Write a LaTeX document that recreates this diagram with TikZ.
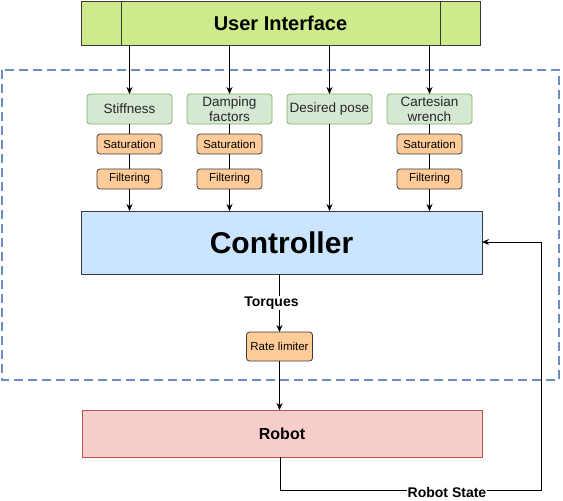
\documentclass[tikz,border=0pt]{standalone}
\usepackage{fontspec}
\setmainfont{Liberation Sans}
\usetikzlibrary{arrows.meta}
\definecolor{uifill}{HTML}{CDEB8B}
\definecolor{dk}{HTML}{36393D}
\definecolor{gfill}{HTML}{D5E8D4}
\definecolor{gline}{HTML}{82B366}
\definecolor{ofill}{HTML}{FFCC99}
\definecolor{bfill}{HTML}{CCE5FF}
\definecolor{rfill}{HTML}{F8CECC}
\definecolor{rline}{HTML}{B85450}
\definecolor{frameblue}{HTML}{6C8EBF}
\begin{document}
\begin{tikzpicture}[x=1pt,y=-1pt,
  box/.style={draw=dk,line width=0.8pt,inner sep=0pt,outer sep=0pt},
  param/.style={draw=gline,fill=gfill,rounded corners=3pt,line width=0.8pt,minimum width=85pt,minimum height=30pt,inner sep=0pt,outer sep=0pt,align=center,font=\fontsize{13.5}{15}\selectfont,text=black!85},
  proc/.style={draw=dk,fill=ofill,rounded corners=3pt,line width=0.8pt,minimum width=65pt,minimum height=20pt,inner sep=0pt,outer sep=0pt,font=\fontsize{11.5}{12}\selectfont},
  arr/.style={-{Stealth[length=7pt,width=6pt]},line width=0.8pt},
  ln/.style={line width=0.8pt}]
\useasboundingbox (0,0) rectangle (563,501);
% dashed frame
\draw[frameblue,line width=2pt,dash pattern=on 9pt off 5pt] (2,70) rectangle (559,380);
% UI
\node[box,fill=uifill,minimum width=399pt,minimum height=44pt] (ui) at (280.5,23) {};
\draw[dk,line width=0.8pt] (121.5,1) -- (121.5,45) (440,1) -- (440,45);
\node[font=\bfseries\fontsize{20}{20}\selectfont] (uit) at (280.5,23) {User Interface};
% params
\node[param] (p1) at (129.5,109) {Stiffness};
\node[param] (p2) at (229.5,109) {Damping\\factors};
\node[param] (p3) at (329.5,109) {Desired pose};
\node[param] (p4) at (429.5,109) {Cartesian\\wrench};
\node[proc] (s1) at (129.5,144) {Saturation};
\node[proc] (s2) at (229.5,144) {Saturation};
\node[proc] (s4) at (429.5,144) {Saturation};
\node[proc] (f1) at (129.5,179) {Filtering};
\node[proc] (f2) at (229.5,179) {Filtering};
\node[proc] (f4) at (429.5,179) {Filtering};
% controller
\node[box,fill=bfill,minimum width=401pt,minimum height=63pt,font=\bfseries\fontsize{30}{30}\selectfont] (ctrl) at (281.5,242.5) {Controller};
\node[proc,minimum width=66pt,minimum height=29pt] (rl) at (279.5,346.5) {Rate limiter};
\node[draw=rline,fill=rfill,line width=0.8pt,minimum width=400pt,minimum height=47pt,inner sep=0pt,outer sep=0pt,font=\bfseries\fontsize{16}{16}\selectfont] (robot) at (282,433.5) {Robot};
% arrows from UI
\foreach \x/\n in {129.5/p1,229.5/p2,329.5/p3,429.5/p4}{
  \draw[arr] (\x,45) -- (\n.north);
}
\draw[ln] (p1) -- (s1); \draw[ln] (s1) -- (f1); \draw[arr] (f1) -- (f1.south |- ctrl.north);
\draw[ln] (p2) -- (s2); \draw[ln] (s2) -- (f2); \draw[arr] (f2) -- (f2.south |- ctrl.north);
\draw[ln] (p4) -- (s4); \draw[ln] (s4) -- (f4); \draw[arr] (f4) -- (f4.south |- ctrl.north);
\draw[arr] (p3) -- (p3.south |- ctrl.north);
% torques
\coordinate (ct) at (279.5,274);
\draw[arr] (ct) -- node[fill=white,inner sep=1pt,font=\bfseries\fontsize{14}{14}\selectfont,xshift=-8pt,pos=0.5] {Torques} (rl.north);
\draw[arr] (rl) -- (rl.south |- robot.north);
% feedback
\coordinate (b1) at (280,490);
\coordinate (b2) at (541,490);
\coordinate (b3) at (541,242);
\draw[ln] (robot.south -| b1) -- (b1) -- (b2) -- (b3);
\draw[arr] (b3) -- (ctrl.east |- b3);
\node[fill=white,inner sep=1pt,font=\bfseries\fontsize{14}{14}\selectfont] (rs) at (447,492) {Robot State};
\end{tikzpicture}
\end{document}
